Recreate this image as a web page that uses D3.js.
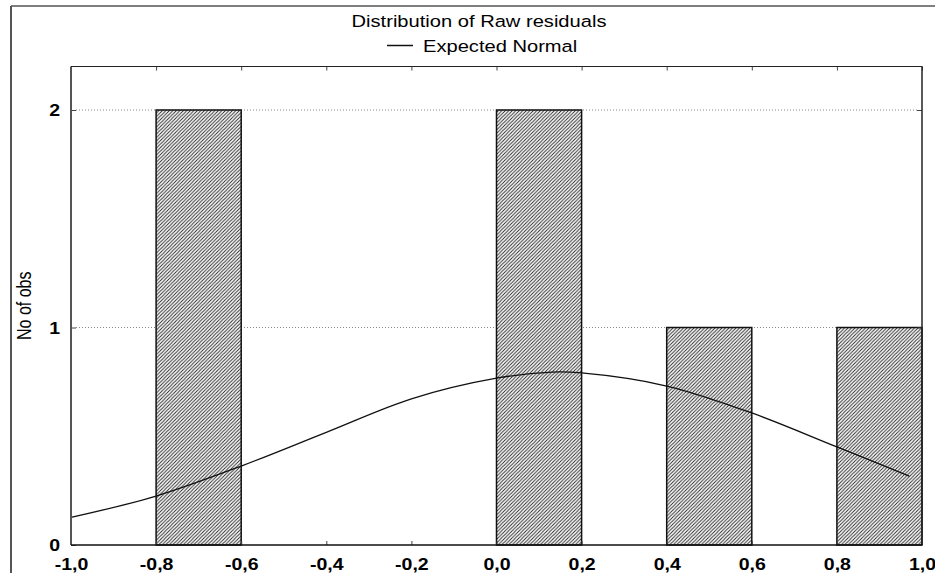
<!DOCTYPE html>
<html>
<head>
<meta charset="utf-8">
<script src="https://cdn.jsdelivr.net/npm/d3@7"></script>
<style>
  body { margin: 0; background: #fff; }
  text { font-family: "Liberation Sans", Arial, sans-serif; fill: #000; }
</style>
</head>
<body>
<svg id="graph" width="935" height="573"></svg>
<script>
// histogram bins (lower edge) and counts
var binStarts = [-1.0, -0.8, -0.6, -0.4, -0.2, 0.0, 0.2, 0.4, 0.6, 0.8];
var binCounts = [0, 2, 0, 0, 0, 2, 0, 1, 0, 1];
var binWidth = 0.2;
// expected normal curve
var normX = [-1.0, -0.8, -0.6, -0.4, -0.2, 0.0, 0.13, 0.2, 0.4, 0.6, 0.8, 0.97];
var normY = [0.127, 0.225, 0.363, 0.518, 0.672, 0.767, 0.795, 0.791, 0.731, 0.607, 0.451, 0.317];
var xTicks = [-1.0, -0.8, -0.6, -0.4, -0.2, 0.0, 0.2, 0.4, 0.6, 0.8, 1.0];
var yTicks = [0, 1, 2];
var title = "Distribution of Raw residuals";
var legendLabel = "Expected Normal";
var yTitle = "No of obs";

var sx = 1.22; // the picture text is stretched sideways
var svg = d3.select("#graph");
var pLeft = 71, pRight = 922, pTop = 66.5, pBottom = 545;

var x = d3.scaleLinear().domain([-1, 1]).range([pLeft, pRight]);
var y = d3.scaleLinear().domain([0, 2.2]).range([pBottom, pTop]);

// hatch pattern
var pat = svg.append("defs").append("pattern")
    .attr("id", "hatch")
    .attr("patternUnits", "userSpaceOnUse")
    .attr("width", 3.5).attr("height", 3.5);
pat.append("rect").attr("width", 3.5).attr("height", 3.5).attr("fill", "#fff");
pat.append("path")
    .attr("d", "M-1,1 l2,-2 M0,3.5 l3.5,-3.5 M2.5,4.5 l2,-2")
    .attr("stroke", "#222").attr("stroke-width", 0.9);

// outer frame
svg.append("line").attr("x1", 11).attr("x2", 935).attr("y1", 6).attr("y2", 6)
    .attr("stroke", "#555").attr("stroke-width", 1.5);
svg.append("line").attr("x1", 11).attr("x2", 11).attr("y1", 6).attr("y2", 573)
    .attr("stroke", "#555").attr("stroke-width", 2);

// title + legend
svg.append("text")
    .attr("transform", "translate(479,27) scale(" + sx + ",1)")
    .attr("text-anchor", "middle")
    .style("font-size", "16.5px")
    .text(title);
svg.append("line").attr("x1", 387).attr("x2", 413).attr("y1", 45.5).attr("y2", 45.5)
    .attr("stroke", "#111").attr("stroke-width", 1.5);
svg.append("text")
    .attr("transform", "translate(423,52) scale(" + sx + ",1)")
    .style("font-size", "16.5px")
    .text(legendLabel);

// plot background
svg.append("rect").attr("x", pLeft).attr("y", pTop)
    .attr("width", pRight - pLeft).attr("height", pBottom - pTop)
    .attr("fill", "#fff");

// dotted grid
svg.append("g").selectAll("line")
    .data(yTicks.filter(function(d) { return d > 0; }))
    .enter().append("line")
        .attr("x1", pLeft + 5).attr("x2", pRight - 5)
        .attr("y1", function(d) { return y(d); })
        .attr("y2", function(d) { return y(d); })
        .attr("stroke", "#888").attr("stroke-dasharray", "1,2");

// bars
var bins = binStarts.map(function(b, i) { return { x0: b, n: binCounts[i] }; })
    .filter(function(d) { return d.n > 0; });
svg.append("g").selectAll("rect")
    .data(bins)
    .enter().append("rect")
        .attr("x", function(d) { return x(d.x0); })
        .attr("width", function(d) { return x(d.x0 + binWidth) - x(d.x0); })
        .attr("y", function(d) { return y(d.n); })
        .attr("height", function(d) { return y(0) - y(d.n); })
        .attr("fill", "url(#hatch)")
        .attr("stroke", "#111").attr("stroke-width", 1.5);

// expected normal
var line = d3.line()
    .x(function(d, i) { return x(normX[i]); })
    .y(function(d) { return y(d); })
    .curve(d3.curveCatmullRom);
svg.append("path")
    .datum(normY)
    .attr("d", line)
    .attr("fill", "none").attr("stroke", "#111").attr("stroke-width", 1.3);

// axes (ticks inside)
var gx = svg.append("g").attr("transform", "translate(0," + pBottom + ")")
    .call(d3.axisBottom(x).tickValues(xTicks).tickSizeInner(-4).tickSizeOuter(0)
        .tickFormat(function(d) { return d3.format(".1f")(d).replace(".", ",").replace("−", "-"); }));
gx.select(".domain").remove();
gx.selectAll("text")
    .attr("y", 25).attr("dy", "0")
    .attr("transform", "scale(" + sx + ",1)")
    .style("font-size", "16px").style("font-weight", "bold");

var gxt = svg.append("g").attr("transform", "translate(0," + pTop + ")")
    .call(d3.axisTop(x).tickValues(xTicks).tickSizeInner(-4).tickSizeOuter(0).tickFormat(""));
gxt.select(".domain").remove();

var gy = svg.append("g").attr("transform", "translate(" + pLeft + ",0)")
    .call(d3.axisLeft(y).tickValues(yTicks).tickSizeInner(-5).tickSizeOuter(0)
        .tickFormat(d3.format("d")));
gy.select(".domain").remove();
gy.selectAll("text")
    .attr("x", 0).attr("dy", "0.35em")
    .attr("transform", "translate(-11,0) scale(" + sx + ",1)")
    .style("font-size", "16px").style("font-weight", "bold");

var gyr = svg.append("g").attr("transform", "translate(" + pRight + ",0)")
    .call(d3.axisRight(y).tickValues(yTicks.filter(function(d) { return d > 0; }))
        .tickSizeInner(-5).tickSizeOuter(0).tickFormat(""));
gyr.select(".domain").remove();
svg.selectAll(".tick line").attr("stroke", "#444");

// plot frame
svg.append("line").attr("x1", pLeft).attr("x2", pLeft).attr("y1", pTop).attr("y2", pBottom)
    .attr("stroke", "#555").attr("stroke-width", 2);
svg.append("line").attr("x1", pLeft).attr("x2", pRight).attr("y1", pTop).attr("y2", pTop)
    .attr("stroke", "#222").attr("stroke-width", 1.2);
svg.append("line").attr("x1", pRight).attr("x2", pRight).attr("y1", pTop).attr("y2", pBottom)
    .attr("stroke", "#222").attr("stroke-width", 1.5);
svg.append("line").attr("x1", pLeft).attr("x2", pRight).attr("y1", pBottom).attr("y2", pBottom)
    .attr("stroke", "#111").attr("stroke-width", 1.5);

// y title
svg.append("text")
    .attr("transform", "translate(31," + ((pTop + pBottom) / 2) + ") rotate(-90) scale(1," + sx + ")")
    .attr("text-anchor", "middle")
    .style("font-size", "16px")
    .text(yTitle);
</script>
</body>
</html>
